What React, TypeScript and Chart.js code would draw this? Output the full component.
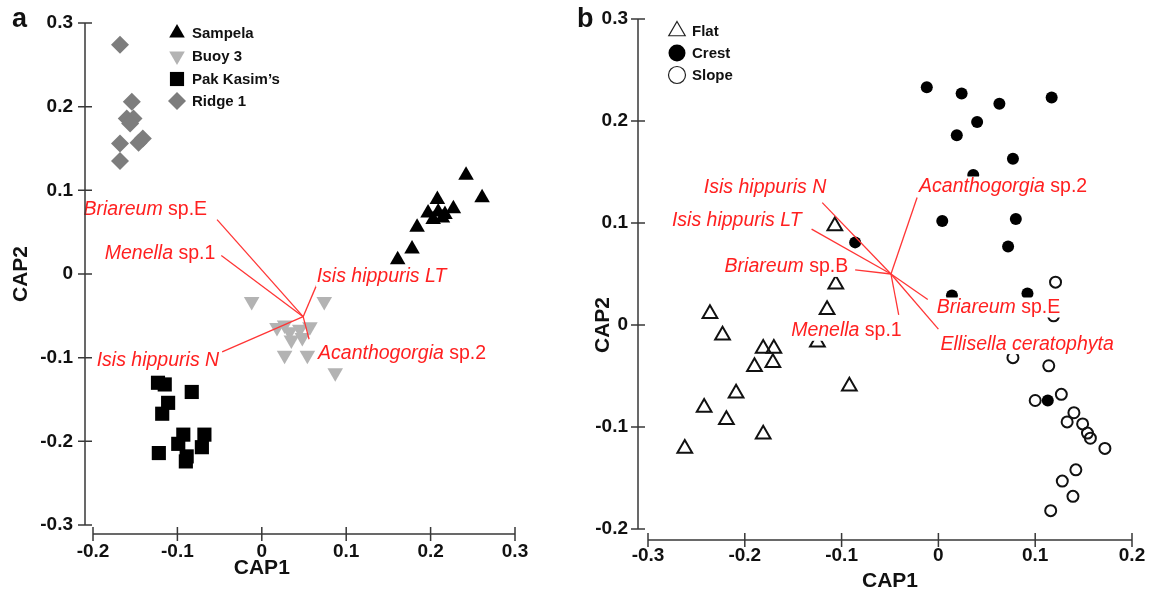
import React, { useEffect, useRef } from 'react';
import { Chart, registerables } from 'chart.js';
import { drawPoint } from 'chart.js/helpers';

Chart.register(...registerables);

// ---------------- Panel a data ----------------
const xTicksA = [-0.2, -0.1, 0, 0.1, 0.2, 0.3];
const yTicksA = [-0.3, -0.2, -0.1, 0, 0.1, 0.2, 0.3];

const sampelaX = [0.242, 0.261, 0.208, 0.197, 0.209, 0.217, 0.227, 0.203, 0.214, 0.184, 0.178, 0.161];
const sampelaY = [0.118, 0.091, 0.089, 0.073, 0.074, 0.071, 0.078, 0.065, 0.067, 0.056, 0.030, 0.017];

const buoyX = [-0.012, 0.074, 0.018, 0.027, 0.033, 0.045, 0.057, 0.035, 0.048, 0.027, 0.054, 0.087];
const buoyY = [-0.033, -0.033, -0.064, -0.061, -0.069, -0.066, -0.063, -0.079, -0.076, -0.097, -0.097, -0.118];

const pakX = [-0.123, -0.115, -0.083, -0.111, -0.118, -0.093, -0.068, -0.099, -0.071, -0.122, -0.089, -0.090];
const pakY = [-0.130, -0.132, -0.141, -0.154, -0.167, -0.192, -0.192, -0.203, -0.207, -0.214, -0.218, -0.224];

const ridgeX = [-0.168, -0.154, -0.160, -0.152, -0.156, -0.141, -0.146, -0.168, -0.168];
const ridgeY = [0.274, 0.206, 0.186, 0.186, 0.180, 0.162, 0.157, 0.156, 0.135];

const vecOriginA = [0.049, -0.051];
const vecNamesA = ['Briareum sp.E', 'Menella sp.1', 'Isis hippuris LT', 'Acanthogorgia sp.2', 'Isis hippuris N'];
const vecEndXA = [-0.053, -0.048, 0.065, 0.056, -0.047];
const vecEndYA = [0.065, 0.022, -0.013, -0.078, -0.093];

// ---------------- Panel b data ----------------
const xTicksB = [-0.3, -0.2, -0.1, 0, 0.1, 0.2];
const yTicksB = [-0.2, -0.1, 0, 0.1, 0.2, 0.3];

const flatX = [-0.107, -0.106, -0.115, -0.125, -0.236, -0.223, -0.181, -0.170, -0.190, -0.171, -0.209, -0.242, -0.219, -0.181, -0.262, -0.092];
const flatY = [0.097, 0.040, 0.015, -0.017, 0.011, -0.010, -0.023, -0.023, -0.041, -0.037, -0.067, -0.081, -0.093, -0.107, -0.121, -0.060];

const crestX = [-0.012, 0.024, 0.063, 0.117, 0.040, 0.019, 0.077, 0.036, 0.004, 0.080, 0.072, 0.014, 0.092, -0.086, 0.113];
const crestY = [0.233, 0.227, 0.217, 0.223, 0.199, 0.186, 0.163, 0.147, 0.102, 0.104, 0.077, 0.029, 0.031, 0.081, -0.074];

const slopeX = [0.121, 0.119, 0.077, 0.114, 0.100, 0.127, 0.140, 0.133, 0.149, 0.154, 0.157, 0.172, 0.142, 0.128, 0.139, 0.116];
const slopeY = [0.042, 0.009, -0.032, -0.040, -0.074, -0.068, -0.086, -0.095, -0.097, -0.106, -0.111, -0.121, -0.142, -0.153, -0.168, -0.182];

const vecOriginB = [-0.049, 0.050];
const vecNamesB = ['Isis hippuris N', 'Isis hippuris LT', 'Acanthogorgia sp.2', 'Briareum sp.B', 'Briareum sp.E', 'Ellisella ceratophyta', 'Menella sp.1'];
const vecEndXB = [-0.120, -0.131, -0.022, -0.086, -0.011, 0.000, -0.041];
const vecEndYB = [0.120, 0.094, 0.125, 0.054, 0.025, -0.004, 0.010];

// ---------------- styling / layout ----------------
const FAMILY = "'Liberation Sans', Arial, Helvetica, sans-serif";
const RED_TEXT = '#ff2020';
const RED_LINE = '#ff3535';
const AXIS = '#383838';
const INK = '#111111';

// label placement (pixel offsets from the vector tip)
const labelDxA = [-10, -6, 0, 9, -3];
const labelDyA = [-11, -3, -9, 13, 8];
const labelAlignA = ['right', 'right', 'left', 'left', 'right'];

const labelDxB = [4, -10, 2, -7, 9, 2, 3];
const labelDyB = [-16, -10, -12, -4, 7, 14, 15];
const labelAlignB = ['right', 'right', 'left', 'right', 'left', 'left', 'right'];

type Style = { pointStyle: any; rotation: number; radius: number; fill: string; stroke: string; borderWidth: number };
type Series = { label: string; xs: number[]; ys: number[]; style: Style; legendStyle?: Style };

type Panel = {
  letter: string;
  letterX: number;
  xMin: number; xMax: number; yMin: number; yMax: number;
  xTicks: number[]; yTicks: number[];
  padTop: number; padRight: number; yWidth: number; xHeight: number;
  yLabelPad: number; xLabelPad: number;
  yGap: number; xGap: number;
  xTitleAt: number; xTitleY: number; yTitleX: number;
  legendX: number; legendTextX: number; legendY: number[];
  series: Series[];
  origin: number[]; vNames: string[]; vX: number[]; vY: number[];
  lDx: number[]; lDy: number[]; lAlign: string[];
};

const fmt = (v: number) => {
  const r = Math.round(v * 10) / 10;
  return r === 0 ? '0' : String(r);
};

const ANN_SIZE = 19.5;

function drawMixedLabel(ctx: CanvasRenderingContext2D, text: string, x: number, y: number, align: string) {
  const idx = text.indexOf(' sp.');
  const ital = idx >= 0 ? text.slice(0, idx) : text;
  const norm = idx >= 0 ? text.slice(idx) : '';
  const fi = `italic ${ANN_SIZE}px ${FAMILY}`;
  const fn = `${ANN_SIZE}px ${FAMILY}`;
  ctx.font = fi;
  const wi = ctx.measureText(ital).width;
  ctx.font = fn;
  const wn = norm ? ctx.measureText(norm).width : 0;
  const w = wi + wn;
  const sx = align === 'right' ? x - w : x;
  ctx.fillStyle = '#ffffff';
  ctx.fillRect(sx - 1, y - 9, w + 2, 20);
  ctx.fillStyle = RED_TEXT;
  ctx.textBaseline = 'middle';
  ctx.textAlign = 'left';
  ctx.font = fi;
  ctx.fillText(ital, sx, y + 1);
  if (norm) {
    ctx.font = fn;
    ctx.fillText(norm, sx + wi, y + 1);
  }
}

function buildChart(canvas: HTMLCanvasElement, p: Panel) {
  const tickFont = { family: FAMILY, size: 19, weight: 'bold' as const };

  const decor = {
    id: 'decor',
    afterDatasetsDraw(chart: any) {
      const { ctx, scales } = chart;
      const xs = scales.x, ys = scales.y;
      const ox = xs.getPixelForValue(p.origin[0]);
      const oy = ys.getPixelForValue(p.origin[1]);
      ctx.save();
      ctx.strokeStyle = RED_LINE;
      ctx.lineWidth = 1.3;
      const tips: number[][] = [];
      p.vNames.forEach((_, i) => {
        const tx = xs.getPixelForValue(p.vX[i]);
        const ty = ys.getPixelForValue(p.vY[i]);
        tips.push([tx, ty]);
        ctx.beginPath();
        ctx.moveTo(ox, oy);
        ctx.lineTo(tx, ty);
        ctx.stroke();
      });
      p.vNames.forEach((name, i) => {
        drawMixedLabel(ctx, name, tips[i][0] + p.lDx[i], tips[i][1] + p.lDy[i], p.lAlign[i]);
      });
      ctx.restore();
    },
    afterDraw(chart: any) {
      const { ctx, chartArea, scales } = chart;
      const xs = scales.x, ys = scales.y;
      ctx.save();
      // axes
      ctx.strokeStyle = AXIS;
      ctx.lineWidth = 1.5;
      const ax = chartArea.left - p.yGap;
      ctx.beginPath();
      ctx.moveTo(ax, ys.getPixelForValue(p.yMax));
      ctx.lineTo(ax, ys.getPixelForValue(p.yMin));
      ys.ticks.forEach((t: any) => {
        const py = ys.getPixelForValue(t.value);
        ctx.moveTo(ax - 7, py);
        ctx.lineTo(ax + 7, py);
      });
      ctx.stroke();
      const ay = chartArea.bottom + p.xGap;
      ctx.beginPath();
      ctx.moveTo(xs.getPixelForValue(p.xMin), ay);
      ctx.lineTo(xs.getPixelForValue(p.xMax), ay);
      xs.ticks.forEach((t: any) => {
        const px = xs.getPixelForValue(t.value);
        ctx.moveTo(px, ay - 7);
        ctx.lineTo(px, ay + 7);
      });
      ctx.stroke();

      // axis titles
      ctx.fillStyle = INK;
      ctx.font = `bold 21px ${FAMILY}`;
      ctx.textAlign = 'center';
      ctx.textBaseline = 'middle';
      ctx.fillText('CAP1', xs.getPixelForValue(p.xTitleAt), p.xTitleY);
      ctx.save();
      ctx.translate(p.yTitleX, ys.getPixelForValue(0));
      ctx.rotate(-Math.PI / 2);
      ctx.fillText('CAP2', 0, 0);
      ctx.restore();

      // panel letter
      ctx.font = `bold 27px ${FAMILY}`;
      ctx.textAlign = 'left';
      ctx.textBaseline = 'alphabetic';
      ctx.fillText(p.letter, p.letterX, 27);

      // legend
      p.series.forEach((s, i) => {
        const st = s.legendStyle || s.style;
        ctx.fillStyle = st.fill;
        ctx.strokeStyle = st.stroke;
        ctx.lineWidth = st.borderWidth;
        drawPoint(ctx, { pointStyle: st.pointStyle, rotation: st.rotation, radius: st.radius, borderWidth: st.borderWidth } as any, p.legendX, p.legendY[i]);
        ctx.fillStyle = INK;
        ctx.font = `bold 15px ${FAMILY}`;
        ctx.textAlign = 'left';
        ctx.textBaseline = 'middle';
        ctx.fillText(s.label, p.legendTextX, p.legendY[i] + 1);
      });
      ctx.restore();
    },
  };

  const zeroPad = (s: any) => {
    s.paddingTop = 0;
    s.paddingBottom = 0;
    s.paddingLeft = 0;
    s.paddingRight = 0;
  };

  return new Chart(canvas, {
    type: 'scatter',
    data: {
      datasets: p.series.map((s) => ({
        label: s.label,
        data: s.xs.map((x, i) => ({ x, y: s.ys[i] })),
        pointStyle: s.style.pointStyle,
        pointRotation: s.style.rotation,
        pointRadius: s.style.radius,
        pointHoverRadius: s.style.radius,
        pointBackgroundColor: s.style.fill,
        pointBorderColor: s.style.stroke,
        pointBorderWidth: s.style.borderWidth,
        backgroundColor: s.style.fill,
        borderColor: s.style.stroke,
        clip: false as any,
      })),
    },
    options: {
      responsive: false,
      animation: false,
      devicePixelRatio: 1,
      events: [],
      layout: { padding: { left: 0, top: p.padTop, right: p.padRight, bottom: 0 } },
      plugins: { legend: { display: false }, tooltip: { enabled: false } },
      scales: {
        x: {
          type: 'linear',
          min: p.xMin,
          max: p.xMax,
          afterFit: (s: any) => { s.height = p.xHeight; zeroPad(s); },
          afterBuildTicks: (s: any) => { s.ticks = p.xTicks.map((v) => ({ value: v })); },
          grid: { display: false, drawTicks: false },
          border: { display: false },
          ticks: { padding: p.xLabelPad, font: tickFont, color: INK, maxRotation: 0, autoSkip: false, callback: (v: any) => fmt(Number(v)) },
        },
        y: {
          type: 'linear',
          min: p.yMin,
          max: p.yMax,
          afterFit: (s: any) => { s.width = p.yWidth; zeroPad(s); },
          afterBuildTicks: (s: any) => { s.ticks = p.yTicks.map((v) => ({ value: v })); },
          grid: { display: false, drawTicks: false },
          border: { display: false },
          ticks: { padding: p.yLabelPad, font: tickFont, color: INK, autoSkip: false, callback: (v: any) => fmt(Number(v)) },
        },
      },
    } as any,
    plugins: [decor],
  });
}

const panelA: Panel = {
  letter: 'a', letterX: 12,
  xMin: -0.2, xMax: 0.3, yMin: -0.3, yMax: 0.3,
  xTicks: xTicksA, yTicks: yTicksA,
  padTop: 23, padRight: 60, yWidth: 93, xHeight: 69,
  yLabelPad: 20, xLabelPad: 15,
  yGap: 8, xGap: 9,
  xTitleAt: 0, xTitleY: 568, yTitleX: 21,
  legendX: 177, legendTextX: 192, legendY: [33, 56, 79, 101],
  series: [
    { label: 'Sampela', xs: sampelaX, ys: sampelaY, style: { pointStyle: 'triangle', rotation: 0, radius: 9, fill: '#000000', stroke: '#000000', borderWidth: 0 } },
    { label: 'Buoy 3', xs: buoyX, ys: buoyY, style: { pointStyle: 'triangle', rotation: 180, radius: 9, fill: '#b3b3b3', stroke: '#b3b3b3', borderWidth: 0 } },
    { label: 'Pak Kasim\u2019s', xs: pakX, ys: pakY, style: { pointStyle: 'rect', rotation: 0, radius: 10, fill: '#000000', stroke: '#000000', borderWidth: 0 } },
    { label: 'Ridge 1', xs: ridgeX, ys: ridgeY, style: { pointStyle: 'rectRot', rotation: 0, radius: 9, fill: '#7d7d7d', stroke: '#7d7d7d', borderWidth: 0 } },
  ],
  origin: vecOriginA, vNames: vecNamesA, vX: vecEndXA, vY: vecEndYA,
  lDx: labelDxA, lDy: labelDyA, lAlign: labelAlignA,
};

const panelB: Panel = {
  letter: 'b', letterX: 2,
  xMin: -0.3, xMax: 0.2, yMin: -0.2, yMax: 0.3,
  xTicks: xTicksB, yTicks: yTicksB,
  padTop: 19, padRight: 18, yWidth: 73, xHeight: 65,
  yLabelPad: 20, xLabelPad: 15,
  yGap: 10, xGap: 11,
  xTitleAt: -0.05, xTitleY: 581, yTitleX: 28,
  legendX: 102, legendTextX: 117, legendY: [31, 53, 75],
  series: [
    { label: 'Flat', xs: flatX, ys: flatY,
      style: { pointStyle: 'triangle', rotation: 0, radius: 8.5, fill: 'rgba(0,0,0,0)', stroke: '#111111', borderWidth: 2 },
      legendStyle: { pointStyle: 'triangle', rotation: 0, radius: 9.5, fill: 'rgba(0,0,0,0)', stroke: '#222222', borderWidth: 1.2 } },
    { label: 'Crest', xs: crestX, ys: crestY,
      style: { pointStyle: 'circle', rotation: 0, radius: 6, fill: '#000000', stroke: '#000000', borderWidth: 0 },
      legendStyle: { pointStyle: 'circle', rotation: 0, radius: 8.5, fill: '#000000', stroke: '#000000', borderWidth: 0 } },
    { label: 'Slope', xs: slopeX, ys: slopeY,
      style: { pointStyle: 'circle', rotation: 0, radius: 5.5, fill: 'rgba(0,0,0,0)', stroke: '#111111', borderWidth: 2 },
      legendStyle: { pointStyle: 'circle', rotation: 0, radius: 8.5, fill: 'rgba(0,0,0,0)', stroke: '#222222', borderWidth: 1.2 } },
  ],
  origin: vecOriginB, vNames: vecNamesB, vX: vecEndXB, vY: vecEndYB,
  lDx: labelDxB, lDy: labelDyB, lAlign: labelAlignB,
};

function PanelCanvas({ panel, left }: { panel: Panel; left: number }) {
  const ref = useRef<HTMLCanvasElement | null>(null);
  useEffect(() => {
    if (!ref.current) return;
    const chart = buildChart(ref.current, panel);
    return () => chart.destroy();
  }, [panel]);
  return (
    <div style={{ position: 'absolute', left, top: 0, width: 575, height: 594 }}>
      <canvas ref={ref} width={575} height={594} style={{ width: 575, height: 594, display: 'block' }} />
    </div>
  );
}

export default function App() {
  return (
    <div style={{ position: 'absolute', left: 0, top: 0, width: 1150, height: 594, background: '#ffffff', overflow: 'hidden' }}>
      <PanelCanvas panel={panelA} left={0} />
      <PanelCanvas panel={panelB} left={575} />
    </div>
  );
}
